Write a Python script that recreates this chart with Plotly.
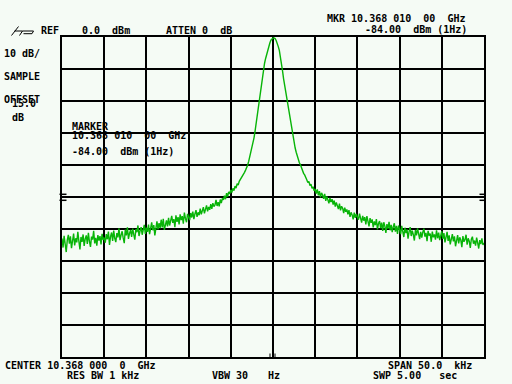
import plotly.graph_objects as go

# ---- data, 0.125 kHz per point ----
freq_start_khz = -25.0
freq_step_khz = 0.125

floor_m25_m20 = [
    -63.0, -65.8, -62.1, -64.9, -67.2, -63.5, -61.8, -64.6, -62.3, -66.0,
    -63.7, -61.4, -65.1, -62.9, -64.2, -60.9, -63.8, -66.4, -62.5, -64.0,
    -61.7, -65.3, -63.1, -62.0, -64.7, -61.2, -63.9, -65.6, -62.4, -63.3,
    -60.6, -64.5, -62.8, -65.2, -61.9, -63.6, -62.2, -64.8, -61.5, -63.4,
    -62.7,
]
floor_m20_m15 = [
    -64.3, -61.6, -63.2, -60.8, -65.0, -62.4, -61.1, -63.7, -60.5, -62.9,
    -64.1, -61.3, -62.6, -59.8, -63.5, -61.9, -60.7, -62.8, -64.4, -60.2,
    -62.0, -59.5, -63.1, -61.4, -60.3, -62.5, -59.9, -61.7, -63.3, -60.1,
    -61.0, -58.9, -62.2, -60.6, -59.4, -61.8, -60.0, -58.7, -61.5, -59.6,
]
floor_m15_m10 = [
    -60.9, -58.6, -61.6, -59.3, -57.9, -60.4, -58.8, -62.0, -59.0, -57.6,
    -60.1, -58.2, -59.7, -57.1, -59.5, -56.8, -60.3, -58.4, -57.3, -59.2,
    -56.5, -58.9, -57.6, -55.9, -58.1, -56.9, -59.4, -55.7, -57.8, -56.3,
    -58.6, -55.4, -57.2, -56.0, -58.3, -54.9, -56.7, -57.9, -55.3, -56.6,
]
skirt_m10_m5 = [
    -57.2, -55.0, -56.4, -54.6, -56.9, -55.3, -54.1, -56.2, -54.8, -55.7,
    -53.6, -55.4, -54.0, -53.2, -55.1, -53.8, -52.6, -54.5, -53.1, -54.0,
    -52.2, -53.7, -51.9, -53.0, -52.5, -50.9, -52.8, -51.6, -52.9, -50.8,
    -51.9, -50.4, -50.9, -49.6, -50.7, -48.8, -49.9, -48.4, -49.0, -47.8,
]
skirt_m5_m3 = [
    -48.6, -47.3, -48.0, -46.6, -47.2, -45.8, -46.3, -45.1,
    -44.6, -44.0, -43.4, -42.9, -42.3, -41.6, -40.9, -40.0,
]
peak_left = [
    -38.8, -37.5, -36.0, -34.5, -33.0, -31.5, -29.4, -27.0, -24.8, -22.7,
    -20.1, -17.5, -14.7, -12.0, -10.0, -8.2, -6.7, -5.3, -4.0, -2.9,
    -1.9, -1.0, -0.5,
]
peak_center = [-0.3]
peak_right = [
    -0.3, -0.5, -1.1, -1.9, -3.0, -4.2, -6.0, -8.0, -10.5, -13.0,
    -15.0, -17.0, -19.2, -21.3, -23.4, -25.5, -27.5, -29.5, -31.4, -33.3,
    -34.7, -36.0, -37.3,
]
skirt_p3_p5 = [
    -38.5, -39.3, -39.9, -41.0, -41.6, -42.6, -43.1, -44.2, -44.6, -45.5,
    -45.1, -46.4, -46.0, -47.3, -46.8, -48.1, -47.5,
]
skirt_p5_p10 = [
    -48.9, -47.6, -49.5, -48.2, -50.1, -48.7, -49.4, -50.6, -49.0, -51.2,
    -49.8, -50.9, -52.0, -50.3, -51.6, -50.7, -52.4, -51.1, -53.0, -51.7,
    -52.6, -53.8, -52.1, -54.2, -52.9, -53.5, -55.0, -53.3, -54.6, -53.9,
    -55.4, -54.1, -56.2, -54.8, -55.6, -57.0, -54.9, -56.5, -55.3, -56.1,
]
floor_p10_p15 = [
    -57.1, -55.2, -56.8, -58.0, -55.9, -57.4, -56.3, -58.6, -56.0, -57.7,
    -59.2, -56.6, -58.1, -57.0, -59.5, -57.6, -58.8, -56.9, -60.1, -58.3,
    -57.5, -59.7, -58.0, -60.6, -57.9, -59.1, -61.2, -58.5, -59.9, -57.8,
    -60.4, -58.7, -61.0, -59.3, -58.2, -60.8, -59.0, -61.5, -58.9, -60.2,
]
floor_p15_p20 = [
    -61.6, -59.0, -60.7, -62.5, -59.6, -61.3, -60.1, -63.0, -60.8, -59.4,
    -62.2, -60.5, -61.8, -63.6, -60.3, -62.0, -59.8, -61.5, -63.2, -60.9,
    -62.7, -61.0, -59.9, -62.4, -61.2, -63.8, -60.6, -62.1, -61.4, -64.0,
    -60.8, -62.6, -61.7, -63.3, -60.4, -62.9, -61.1, -63.5, -62.3, -60.7,
]
floor_p20_p25 = [
    -63.1, -61.3, -64.2, -62.5, -60.9, -63.7, -62.0, -64.8, -62.8, -61.6,
    -63.9, -62.3, -65.4, -63.0, -61.9, -64.5, -62.6, -63.4, -65.7, -62.2,
    -64.0, -63.3, -61.8, -64.9, -62.9, -63.8, -65.9, -63.2, -62.4, -64.6,
    -63.6, -65.2, -62.7, -64.3, -66.1, -63.5, -64.7, -62.9, -65.0, -64.4,
]

level_dbm = (floor_m25_m20 + floor_m20_m15 + floor_m15_m10 + skirt_m10_m5
             + skirt_m5_m3 + peak_left + peak_center + peak_right
             + skirt_p3_p5 + skirt_p5_p10 + floor_p10_p15 + floor_p15_p20
             + floor_p20_p25)
assert len(level_dbm) == 401, len(level_dbm)
freq_khz = [freq_start_khz + freq_step_khz * i for i in range(len(level_dbm))]

x_range = [-25, 25]
y_range = [-100, 0]

header_texts = [
    ("REF", 41.7, 30.5),
    ("0.0  dBm", 82.7, 30.5),
    ("ATTEN 0  dB", 166, 30.5),
    ("MKR 10.368 010  00  GHz", 327, 18),
    ("-84.00  dBm (1Hz)", 365, 30),
    ("10 dB/", 5, 53.3),
    ("SAMPLE", 5, 76.7),
    ("OFFSET", 5, 99.4),
    ("15.0", 12.3, 103.5),
    ("dB", 12.7, 117),
    ("MARKER", 72.3, 126.7),
    ("10.368 010  00  GHz", 72.3, 135),
    ("-84.00  dBm (1Hz)", 72.3, 151.7),
    ("CENTER 10.368 000  0  GHz", 5, 365),
    ("RES BW 1 kHz", 67.7, 375),
    ("VBW 30", 212.7, 375),
    ("Hz", 268.7, 375),
    ("SPAN 50.0  kHz", 388.3, 365),
    ("SWP 5.00   sec", 373.3, 375),
]

W, H = 512, 384
L, R, T, B = 62, 484, 37, 357

def px(xp):
    return (xp - L) / (R - L)

def py(yp):
    return (B - yp) / (B - T)

BG = "#f5fbf5"

fig = go.Figure()
fig.add_trace(go.Scatter(
    x=freq_khz, y=level_dbm, mode="lines",
    line=dict(color="#08b408", width=1.4),
    hoverinfo="skip", showlegend=False,
))

anns = []
for txt, xx, yy in header_texts:
    anns.append(dict(
        text="<b>%s</b>" % txt.replace(" ", "&nbsp;"),
        x=px(xx - 2.5), y=py(yy), xref="paper", yref="paper",
        xanchor="left", yanchor="middle", showarrow=False,
        font=dict(family="DejaVu Sans Mono", size=10, color="black"),
    ))

shapes = []
def seg(x0, y0, x1, y1, w=1.5):
    shapes.append(dict(type="line", xref="paper", yref="paper",
                       x0=px(x0), y0=py(y0), x1=px(x1), y1=py(y1),
                       line=dict(color="black", width=w)))

# reference-offset "=" markers
for yy in (194.3, 200.3):
    seg(59.5, yy, 66.5, yy)
    seg(479.5, yy, 486.0, yy)
# small marks at bottom centre
seg(270, 353.5, 270, 357, 1)
seg(275, 353.5, 275, 357, 1)
# hp logo
seg(11.5, 35.5, 18.5, 26.5, 1)
seg(14.5, 31, 22.5, 31, 1)
seg(22.5, 31, 19.5, 35.5, 1)
seg(22.5, 31, 33.5, 31, 1)
seg(33.5, 31, 32, 33.7, 1)
seg(32, 33.7, 23.5, 33.7, 1)

axis_common = dict(showgrid=True, gridcolor="black", gridwidth=1.5,
                   zeroline=False, showticklabels=False, ticks="",
                   showline=True, linecolor="black", linewidth=1.5,
                   mirror=True, fixedrange=True)

fig.update_layout(
    width=W, height=H,
    margin=dict(l=L, r=W - R, t=T, b=H - B, pad=0),
    paper_bgcolor=BG, plot_bgcolor=BG,
    xaxis=dict(range=x_range, dtick=5, **axis_common),
    yaxis=dict(range=y_range, dtick=10, **axis_common),
    annotations=anns, shapes=shapes,
    showlegend=False,
)

fig.write_html(
    "out.html",
    config={"displayModeBar": False},
    post_script="document.body.style.margin='0';document.body.style.background='%s';" % BG,
)
